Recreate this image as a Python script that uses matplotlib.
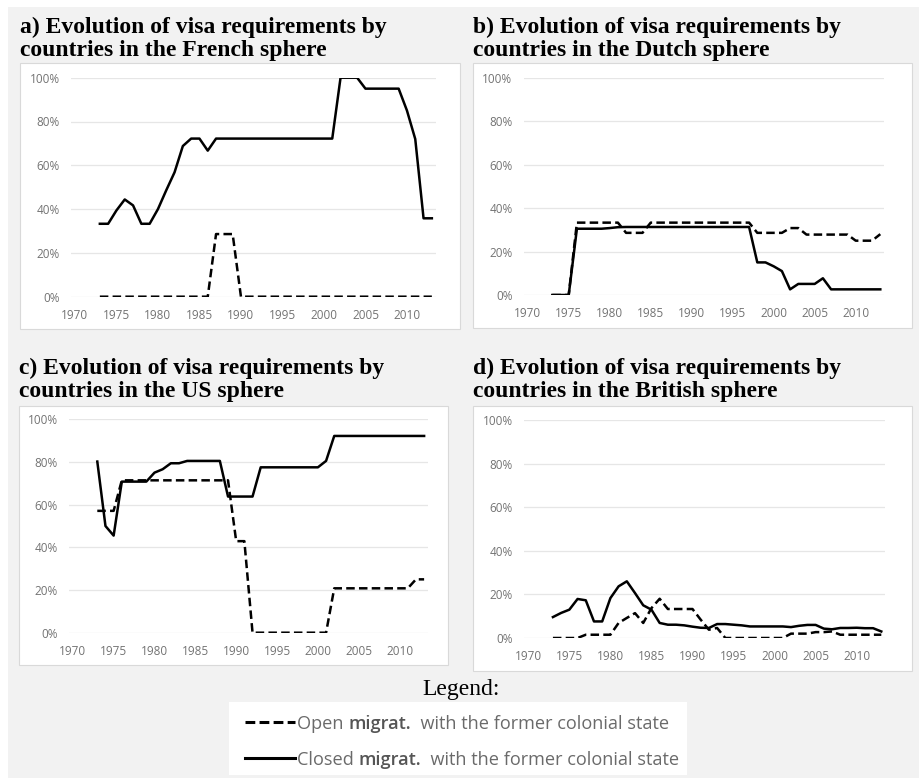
import numpy as np
import matplotlib
matplotlib.use("Agg")
import matplotlib.pyplot as plt
from matplotlib.patches import Rectangle
from matplotlib.lines import Line2D

W, H = 920, 778

years = list(range(1973, 2014))
tick_years = [1970, 1975, 1980, 1985, 1990, 1995, 2000, 2005, 2010]
pct_ticks = [0, 20, 40, 60, 80, 100]

french_closed = [33.3, 33.3, 39.4, 44.4, 41.7, 33.3, 33.3, 40, 48.6, 56.8,
                 68.8, 72.2, 72.2, 66.7, 72.2] + [72.2] * 14 + \
                [100, 100, 100, 95, 95, 95, 95, 95, 85, 72, 35.8, 35.8]
french_open = [0] * 14 + [28.6, 28.6, 28.6] + [0] * 24

dutch_closed = [0, 0, 0, 30.5, 30.5, 30.5, 30.5, 30.8, 31.2] + [31.3] * 16 + \
               [15, 15, 13.2, 11, 2.6, 5.1, 5.1, 5.1, 7.7, 2.6] + [2.6] * 6
dutch_open = [0] * 3 + [33.3] * 6 + [28.6] * 3 + [33.3] * 13 + [28.6] * 4 + \
             [30.8] * 2 + [27.8] * 6 + [25] * 3 + [28]

us_closed = [80.2, 50, 45.5, 70.8, 70.8, 70.8, 70.8, 75, 76.6, 79.4, 79.4] + \
            [80.5] * 5 + [63.8] * 4 + [77.5] * 8 + [80.5] + [92.2] * 12
us_open = [57.1] * 3 + [71.4] * 14 + [42.9, 42.9] + [0] * 10 + [20.8] * 10 + [25, 25]

british_closed = [9.6, 11.5, 13, 17.9, 17.3, 7.6, 7.6, 18.3, 23.7, 26,
                  20.6, 15, 13, 6.9, 6.1, 6.1, 5.8, 5.2, 4.7, 4.6,
                  6.4, 6.4, 6.1, 5.8, 5.3, 5.3, 5.3, 5.3, 5.3, 5.0,
                  5.6, 6.0, 6.0, 4.3, 4.0, 4.6, 4.6, 4.7, 4.5, 4.5, 3.0]
british_open = [0] * 4 + [1.5] * 4 + [6.9, 9.2, 11.4, 6.9, 13.7, 18, 13.3, 13.3,
                13.3, 13.3, 8.4, 3.8, 4.6] + [0] * 8 + \
               [2.0, 2.0, 2.0, 2.7, 2.7, 3.0] + [1.5] * 6

titles = [("a) Evolution of visa requirements by", "countries in the French sphere"),
          ("b) Evolution of visa requirements by", "countries in the Dutch sphere"),
          ("c) Evolution of visa requirements by", "countries in the US sphere"),
          ("d) Evolution of visa requirements by", "countries in the British sphere")]
legend_labels = ["Open migrat. with the former colonial state",
                 "Closed migrat. with the former colonial state"]

# layout in pixels: (box l,t,r,b), (axes l,t,r,b), title x, title baselines
panels = [
    ((20, 63, 460, 329), (70.8, 77.7, 436, 296.7), 20, (33, 56), french_open, french_closed),
    ((473, 63, 912, 328), (523.6, 77.7, 884.4, 295), 473, (33, 56), dutch_open, dutch_closed),
    ((19, 406, 448, 665), (68.7, 419.3, 428.2, 632.7), 19, (374, 397.5), us_open, us_closed),
    ((473, 406, 912, 671), (524.2, 420, 885.4, 638), 473, (374, 397.5), british_open, british_closed),
]

fig = plt.figure(figsize=(W / 100, H / 100), dpi=100)
fig.patch.set_facecolor("white")


def fx(x):
    return x / W


def fy(y):
    return 1 - y / H


def box(l, t, r, b, fc, ec="none"):
    rect = Rectangle((fx(l), fy(b)), fx(r - l), (b - t) / H, transform=fig.transFigure,
                     facecolor=fc, edgecolor=ec, linewidth=0.8, zorder=-5)
    fig.patches.append(rect)


box(8, 7, W, H, "#f2f2f2")

for i, (bx, axp, tx, tb, open_v, closed_v) in enumerate(panels):
    box(*bx, fc="white", ec="#d9d9d9")
    l, t, r, b = axp
    ax = fig.add_axes([fx(l), fy(b), fx(r - l), (b - t) / H])
    ax.set_facecolor("none")
    ax.plot(years, open_v, color="black", lw=1.8, linestyle=(0, (3.4, 1.7)),
            dash_capstyle="butt", zorder=3)
    ax.plot(years, closed_v, color="black", lw=1.8, solid_joinstyle="round", zorder=4)
    ax.set_xlim(1969.5, 2013.5)
    ax.set_ylim(0, 100)
    ax.set_yticks(pct_ticks)
    ax.set_yticklabels([f"{v}%" for v in pct_ticks])
    ax.set_xticks(tick_years)
    ax.set_xticklabels([str(y) for y in tick_years])
    ax.grid(axis="y", color="#e6e6e6", lw=0.9)
    ax.set_axisbelow(True)
    for s in ax.spines.values():
        s.set_visible(False)
    ax.tick_params(axis="both", length=0, labelsize=8.5, labelcolor="#737373")
    ax.tick_params(axis="y", pad=8)
    ax.tick_params(axis="x", pad=8.5)
    for lab in ax.get_xticklabels() + ax.get_yticklabels():
        lab.set_fontfamily("Open Sans")
    fig.text(fx(tx), fy(tb[0]), titles[i][0], family="Liberation Serif",
             weight="bold", fontsize=17, va="baseline", ha="left")
    fig.text(fx(tx), fy(tb[1]), titles[i][1], family="Liberation Serif",
             weight="bold", fontsize=17, va="baseline", ha="left")

# legend
fig.text(fx(461), fy(695), "Legend:", family="Liberation Serif", fontsize=17,
         va="baseline", ha="center")
box(229, 702, 687, 775, "white")
fig.lines.append(Line2D([fx(245), fx(295)], [fy(722), fy(722)], transform=fig.transFigure,
                        color="black", lw=2.2, linestyle=(0, (3.2, 1.4)), dash_capstyle="butt"))
fig.lines.append(Line2D([fx(245), fx(295)], [fy(758), fy(758)], transform=fig.transFigure,
                        color="black", lw=2.2))

renderer = fig.canvas.get_renderer()
for yline, lab in zip([722, 758], legend_labels):
    first, rest = lab.split(" ", 1)
    mig, tail = rest.split(" ", 1)
    pieces = [(first + " ", "normal", "#6a6a6a"), (mig, "semibold", "#555555"),
              ("  " + tail, "normal", "#6a6a6a")]
    xpos = 297
    for txt, wt, col in pieces:
        t = fig.text(fx(xpos), fy(yline), txt, family="Open Sans", fontsize=13.1,
                     weight=wt, color=col, va="center_baseline", ha="left")
        ext = t.get_window_extent(renderer)
        xpos += ext.width

fig.savefig("out.png", dpi=100, facecolor=fig.get_facecolor())
